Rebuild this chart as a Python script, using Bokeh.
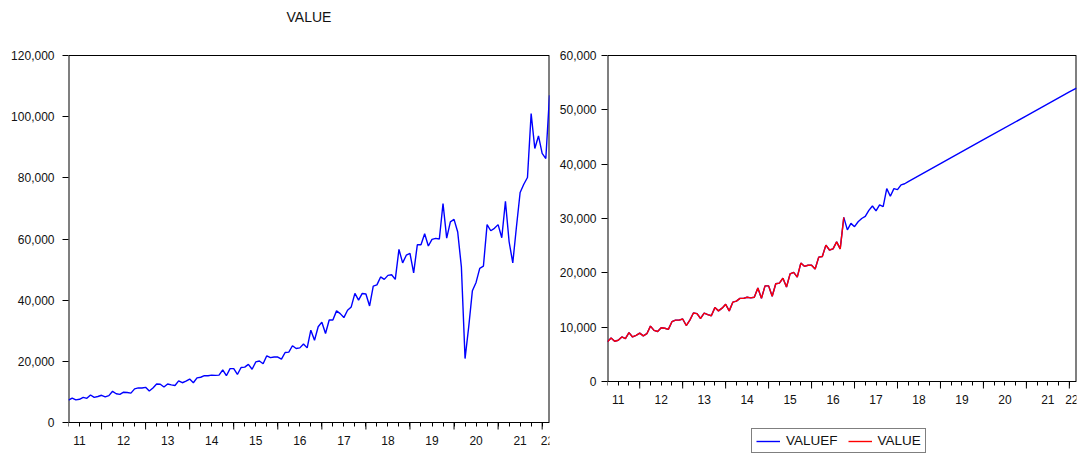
import pandas as pd
from bokeh.plotting import figure
from bokeh.layouts import row
from bokeh.models import (FixedTicker, NumeralTickFormatter, Legend, LegendItem, Range1d,
                          Whisker, ColumnDataSource, Label)
from bokeh.embed import file_html
from bokeh.resources import INLINE

# ---------------- data ----------------
start_month = "2011-04-01"
value = [
    7300, 8000, 7400, 7600, 8200, 7900, 9000, 8200, 8500, 8900, 8400, 8800,
    10200, 9400, 9200, 9900, 9800, 9600, 11000, 11300, 11300, 11500, 10300, 11300,
    12600, 12500, 11600, 12600, 12300, 12100, 13600, 13000, 13500, 14200, 13000, 14600,
    14800, 15300, 15300, 15500, 15400, 15500, 17200, 15300, 17600, 17600, 15700, 18000,
    18100, 19000, 17400, 19800, 20100, 19200, 21800, 21200, 21400, 21400, 20700, 22900,
    23000, 25100, 24200, 24400, 25700, 24400, 30200, 26900, 31300, 32800, 29100, 33500,
    33500, 36500, 35600, 34300, 36700, 37800, 42200, 40000, 42200, 42000, 38100, 44600,
    45000, 47600, 46800, 48100, 48300, 46800, 56600, 52200, 54700, 55300, 48900, 58100,
    58100, 61700, 57700, 59900, 60200, 60000, 71600, 60300, 65600, 66400, 62300, 50900,
    20900, 31300, 43100, 45800, 50400, 51100, 64700, 62700, 63500, 64700, 60400, 72300,
    59100, 52200, 64000, 75200, 77900, 80100, 101000, 89600, 93700, 88000, 86300, 107000,
]
value_sample_end = 67
valuef_dates = ["2016-11", "2016-12", "2017-01", "2017-02", "2017-03", "2017-04",
                "2017-05", "2017-06", "2017-07", "2017-08", "2017-09", "2017-10",
                "2017-11", "2017-12", "2018-01", "2018-02", "2018-03", "2018-04",
                "2019-01", "2020-01", "2021-01", "2022-01", "2022-03"]
valuef_values = [27900, 29100, 28500, 29400, 30000, 30400, 31500, 32300, 31400, 32500,
                 32200, 35500, 34100, 35500, 35300, 36200, 36400, 36800,
                 40100, 44500, 48900, 53300, 54000]
x_tick_labels = ["11", "12", "13", "14", "15", "16", "17", "18", "19", "20", "21", "22"]
left_y_ticks = [0, 20000, 40000, 60000, 80000, 100000, 120000]
right_y_ticks = [0, 10000, 20000, 30000, 40000, 50000, 60000]


def frac_year(d):
    d = pd.Timestamp(d)
    return float(d.year + (d.month - 1) / 12)


months = pd.date_range(start_month, periods=len(value), freq="MS")
x = [frac_year(d) for d in months]
x0, x1 = x[0], x[-1]
xf_tail = [frac_year(d + "-01") for d in valuef_dates]
x_sample = x[:value_sample_end]
v_sample = value[:value_sample_end]
xf = x_sample + xf_tail
vf = v_sample + valuef_values

FONT = "Liberation Sans"
BLUE = "#0000FF"
RED = "#FF0000"
CANVAS_H = 454

year_ticks = [float(y) for y in range(2011, 2024) if x0 <= y <= x1]
quarter_ticks = [y + q / 4 for y in range(2011, 2023) for q in range(4) if x0 <= y + q / 4 <= x1]


def make_panel(width_frame, left_border, right_border, box_top_px, box_bottom_px, ymax,
               y_ticks, y_standoff, last_label_pos):
    per_px = ymax / (box_bottom_px - box_top_px)
    y_start = -(CANVAS_H - box_bottom_px) * per_px
    y_end = ymax + box_top_px * per_px
    p = figure(frame_width=width_frame, frame_height=CANVAS_H,
               x_range=Range1d(x0, x1), y_range=Range1d(y_start, y_end),
               output_backend="svg", toolbar_location=None,
               min_border_left=left_border, min_border_right=right_border,
               min_border_top=0, min_border_bottom=0)
    p.outline_line_color = None
    p.xgrid.visible = False
    p.ygrid.visible = False

    yax = p.yaxis[0]
    yax.ticker = FixedTicker(ticks=y_ticks)
    yax.formatter = NumeralTickFormatter(format="0,0")
    yax.major_tick_out = 6
    yax.major_tick_in = 0
    yax.minor_tick_line_color = None
    yax.major_label_standoff = y_standoff
    yax.major_label_text_font = FONT
    yax.major_label_text_font_size = "12px"
    yax.major_label_text_color = "#111111"
    yax.axis_line_color = None
    yax.major_tick_line_color = "black"

    label_pos = [y + 0.5 for y in range(2011, 2022)] + [last_label_pos]
    xax = p.xaxis[0]
    xax.fixed_location = 0
    xax.ticker = FixedTicker(ticks=label_pos, minor_ticks=quarter_ticks)
    xax.major_label_overrides = {pos: lab for pos, lab in zip(label_pos, x_tick_labels)}
    xax.major_tick_out = 7
    xax.major_tick_in = 0
    xax.major_tick_line_color = None
    xax.minor_tick_out = 4
    xax.minor_tick_in = 0
    xax.minor_tick_line_color = "black"
    xax.axis_line_color = "black"
    xax.major_label_standoff = 6
    xax.major_label_text_font = FONT
    xax.major_label_text_font_size = "12px"
    xax.major_label_text_color = "#111111"

    # plot box (top, left, right edges; bottom edge is the x axis line)
    p.segment(x0=[x0], y0=[ymax], x1=[x1], y1=[ymax], line_color="black", line_width=1)
    p.segment(x0=[x0, x1], y0=[0, 0], x1=[x0, x1], y1=[ymax, ymax], line_color="black",
              line_width=2)

    # longer tick marks at each year start
    src = ColumnDataSource(dict(base=year_ticks, lo=[-7 * per_px] * len(year_ticks),
                                hi=[0.0] * len(year_ticks)))
    p.add_layout(Whisker(base="base", lower="lo", upper="hi", dimension="height", source=src,
                         line_color="black", line_width=1, lower_head=None, upper_head=None))
    return p, per_px


# ---------------- left panel ----------------
p1, per1 = make_panel(481, 68, 7, 55, 422, 120000, left_y_ticks, 8, 2022.12)
p1.line(x, value, line_color=BLUE, line_width=1.4)
p1.add_layout(Label(x=(x0 + x1) / 2, y=120000 + (55 - 16) * per1, text="VALUE",
                    text_align="center", text_baseline="middle", text_font=FONT,
                    text_font_size="14px", text_color="#111111"))

# ---------------- right panel ----------------
p2, per2 = make_panel(469, 48, 2, 55, 381, 60000, right_y_ticks, 5, 2022.08)
r_f = p2.line(xf, vf, line_color=BLUE, line_width=1.4)
r_v = p2.line(x_sample, v_sample, line_color=RED, line_width=1.4)

legend = Legend(items=[LegendItem(label="VALUEF", renderers=[r_f]),
                       LegendItem(label="VALUE", renderers=[r_v])],
                orientation="horizontal", location=(144, 1), margin=0, padding=4,
                spacing=10, glyph_width=24, glyph_height=14, label_standoff=6,
                label_text_font=FONT, label_text_font_size="13.5px", label_text_color="#111111",
                border_line_color="black", border_line_width=1,
                background_fill_color="white", background_fill_alpha=1)
p2.add_layout(legend)

layout = row(p1, p2)
open("out.html", "w").write(file_html(layout, INLINE))
